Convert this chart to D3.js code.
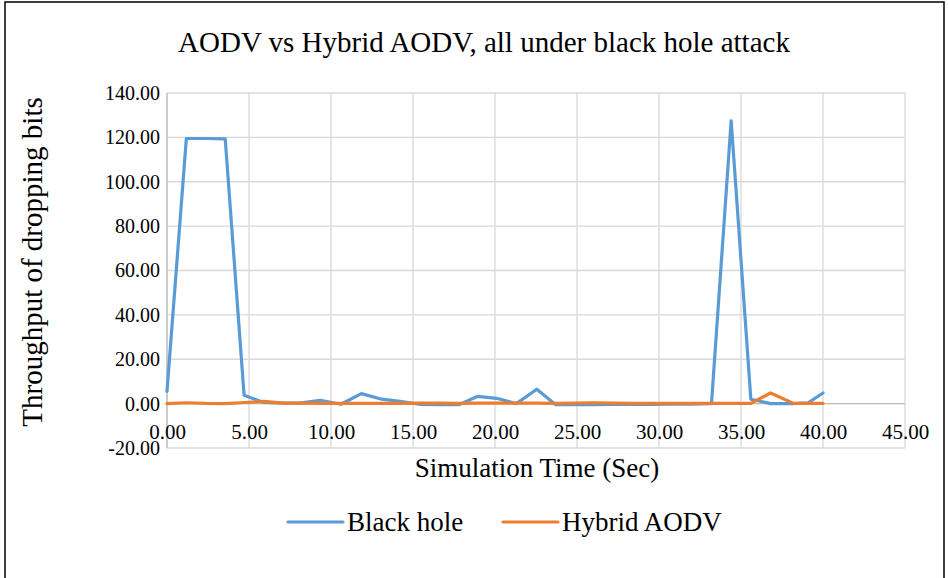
<!DOCTYPE html>
<html>
<head>
<meta charset="utf-8">
<script src="https://cdn.jsdelivr.net/npm/d3@7"></script>
<style>
  body { margin: 0; background: #fff; }
  svg text { font-family: "Liberation Serif", "Times New Roman", serif; fill: #000; }
</style>
</head>
<body>
<svg id="chart" width="948" height="578"></svg>
<script>
// Simulation time of each sample (seconds)
const times = [0, 1.18, 2.35, 3.55, 4.7, 5.9, 7.1, 8.2, 9.35, 10.6, 11.85, 13.1, 14.2, 15.4, 16.6, 17.8,
  18.95, 20.1, 21.3, 22.55, 23.7, 24.85, 26.0, 27.2, 28.4, 29.5, 30.7, 31.9, 33.2, 34.4, 35.6, 36.8, 38.2, 39.1, 40.0];
// Throughput of dropping bits for plain AODV under black hole attack
const blackHole = [5.5, 119.5, 119.5, 119.3, 3.8, 0.5, 0.2, 0.3, 1.5, -0.3, 4.5, 2.0, 1.0, -0.3, -0.5, -0.5,
  3.3, 2.4, 0.0, 6.5, -0.5, -0.5, -0.5, -0.3, -0.3, -0.3, -0.2, -0.2, 0.0, 127.5, 2.0, 0.0, 0.0, 0.4, 4.8];
// Throughput of dropping bits for Hybrid AODV under the same attack
const hybrid = [0.0, 0.4, 0.1, 0.0, 0.5, 1.0, 0.2, 0.2, 0.1, 0.1, 0.1, 0.1, 0.1, 0.2, 0.2, 0.1,
  0.2, 0.2, 0.2, 0.2, 0.1, 0.2, 0.4, 0.2, 0.1, 0.1, 0.1, 0.1, 0.1, 0.1, 0.1, 4.8, 0.1, 0.1, 0.1];
const xTicks = [0, 5, 10, 15, 20, 25, 30, 35, 40, 45];
const yTicks = [-20, 0, 20, 40, 60, 80, 100, 120, 140];
const seriesNames = ["Black hole", "Hybrid AODV"];
const seriesColors = ["#5B9BD5", "#ED7D31"];

// Two decimals with a plain hyphen for negatives
const fmt = d => (d < 0 ? "-" : "") + Math.abs(d).toFixed(2);

const svg = d3.select("#chart");

// Outer chart frame
svg.append("rect").attr("x", 5).attr("y", 2).attr("width", 939).attr("height", 620)
  .attr("fill", "none").attr("stroke", "#000").attr("stroke-width", 1.5);

const x = d3.scaleLinear().domain([0, 45]).range([167, 905]);
const y = d3.scaleLinear().domain([-20, 140]).range([448, 93]);

// Gridlines
svg.append("g").selectAll("line").data(yTicks).join("line")
  .attr("x1", x(0)).attr("x2", x(45)).attr("y1", d => y(d)).attr("y2", d => y(d))
  .attr("stroke", "#D9D9D9").attr("stroke-width", 1.3);
svg.append("g").selectAll("line").data(xTicks).join("line")
  .attr("x1", d => x(d)).attr("x2", d => x(d)).attr("y1", y(-20)).attr("y2", y(140))
  .attr("stroke", "#D9D9D9").attr("stroke-width", 1.3);

// Axis lines: horizontal axis crosses at zero
svg.append("line").attr("x1", x(0)).attr("x2", x(45)).attr("y1", y(0)).attr("y2", y(0))
  .attr("stroke", "#BFBFBF").attr("stroke-width", 1.3);
svg.append("line").attr("x1", x(0)).attr("x2", x(0)).attr("y1", y(-20)).attr("y2", y(140))
  .attr("stroke", "#BFBFBF").attr("stroke-width", 1.3);

// Y tick labels
const yAxis = d3.axisLeft(y).tickValues(yTicks).tickFormat(fmt).tickSize(0).tickPadding(7);
const gy = svg.append("g").attr("transform", `translate(${x(0)},0)`).call(yAxis)
  .attr("font-family", null).attr("font-size", null);
gy.select(".domain").remove();
gy.selectAll("text").style("font-size", "20px");

// X tick labels, placed just below the zero line
const xAxis = d3.axisBottom(x).tickValues(xTicks).tickFormat(fmt).tickSize(0).tickPadding(20);
const gx = svg.append("g").attr("transform", `translate(0,${y(0)})`).call(xAxis)
  .attr("font-family", null).attr("font-size", null);
gx.select(".domain").remove();
gx.selectAll("text").style("font-size", "21px");

// Series lines
const line = d3.line().x((d, i) => x(times[i])).y(d => y(d));
[blackHole, hybrid].forEach((vals, k) => {
  svg.append("path").datum(vals).attr("d", line)
    .attr("fill", "none").attr("stroke", seriesColors[k]).attr("stroke-width", 3.2)
    .attr("stroke-linejoin", "round").attr("stroke-linecap", "round");
});

// Title and axis titles
svg.append("text").attr("x", 484).attr("y", 52).attr("text-anchor", "middle")
  .style("font-size", "29px").text("AODV vs Hybrid AODV, all under black hole attack");
svg.append("text").attr("x", 537).attr("y", 477).attr("text-anchor", "middle")
  .style("font-size", "27px").text("Simulation Time (Sec)");
svg.append("text").attr("transform", "translate(42,262) rotate(-90)")
  .attr("text-anchor", "middle").style("font-size", "29px").text("Throughput of dropping bits");

// Legend
const legendX = [288, 503];
seriesNames.forEach((name, k) => {
  const g = svg.append("g").attr("transform", `translate(${legendX[k]},522)`);
  g.append("line").attr("x1", 0).attr("x2", 55).attr("y1", 0).attr("y2", 0)
    .attr("stroke", seriesColors[k]).attr("stroke-width", 3.2).attr("stroke-linecap", "round");
  g.append("text").attr("x", 59).attr("y", 9).style("font-size", "27px").text(name);
});
</script>
</body>
</html>
